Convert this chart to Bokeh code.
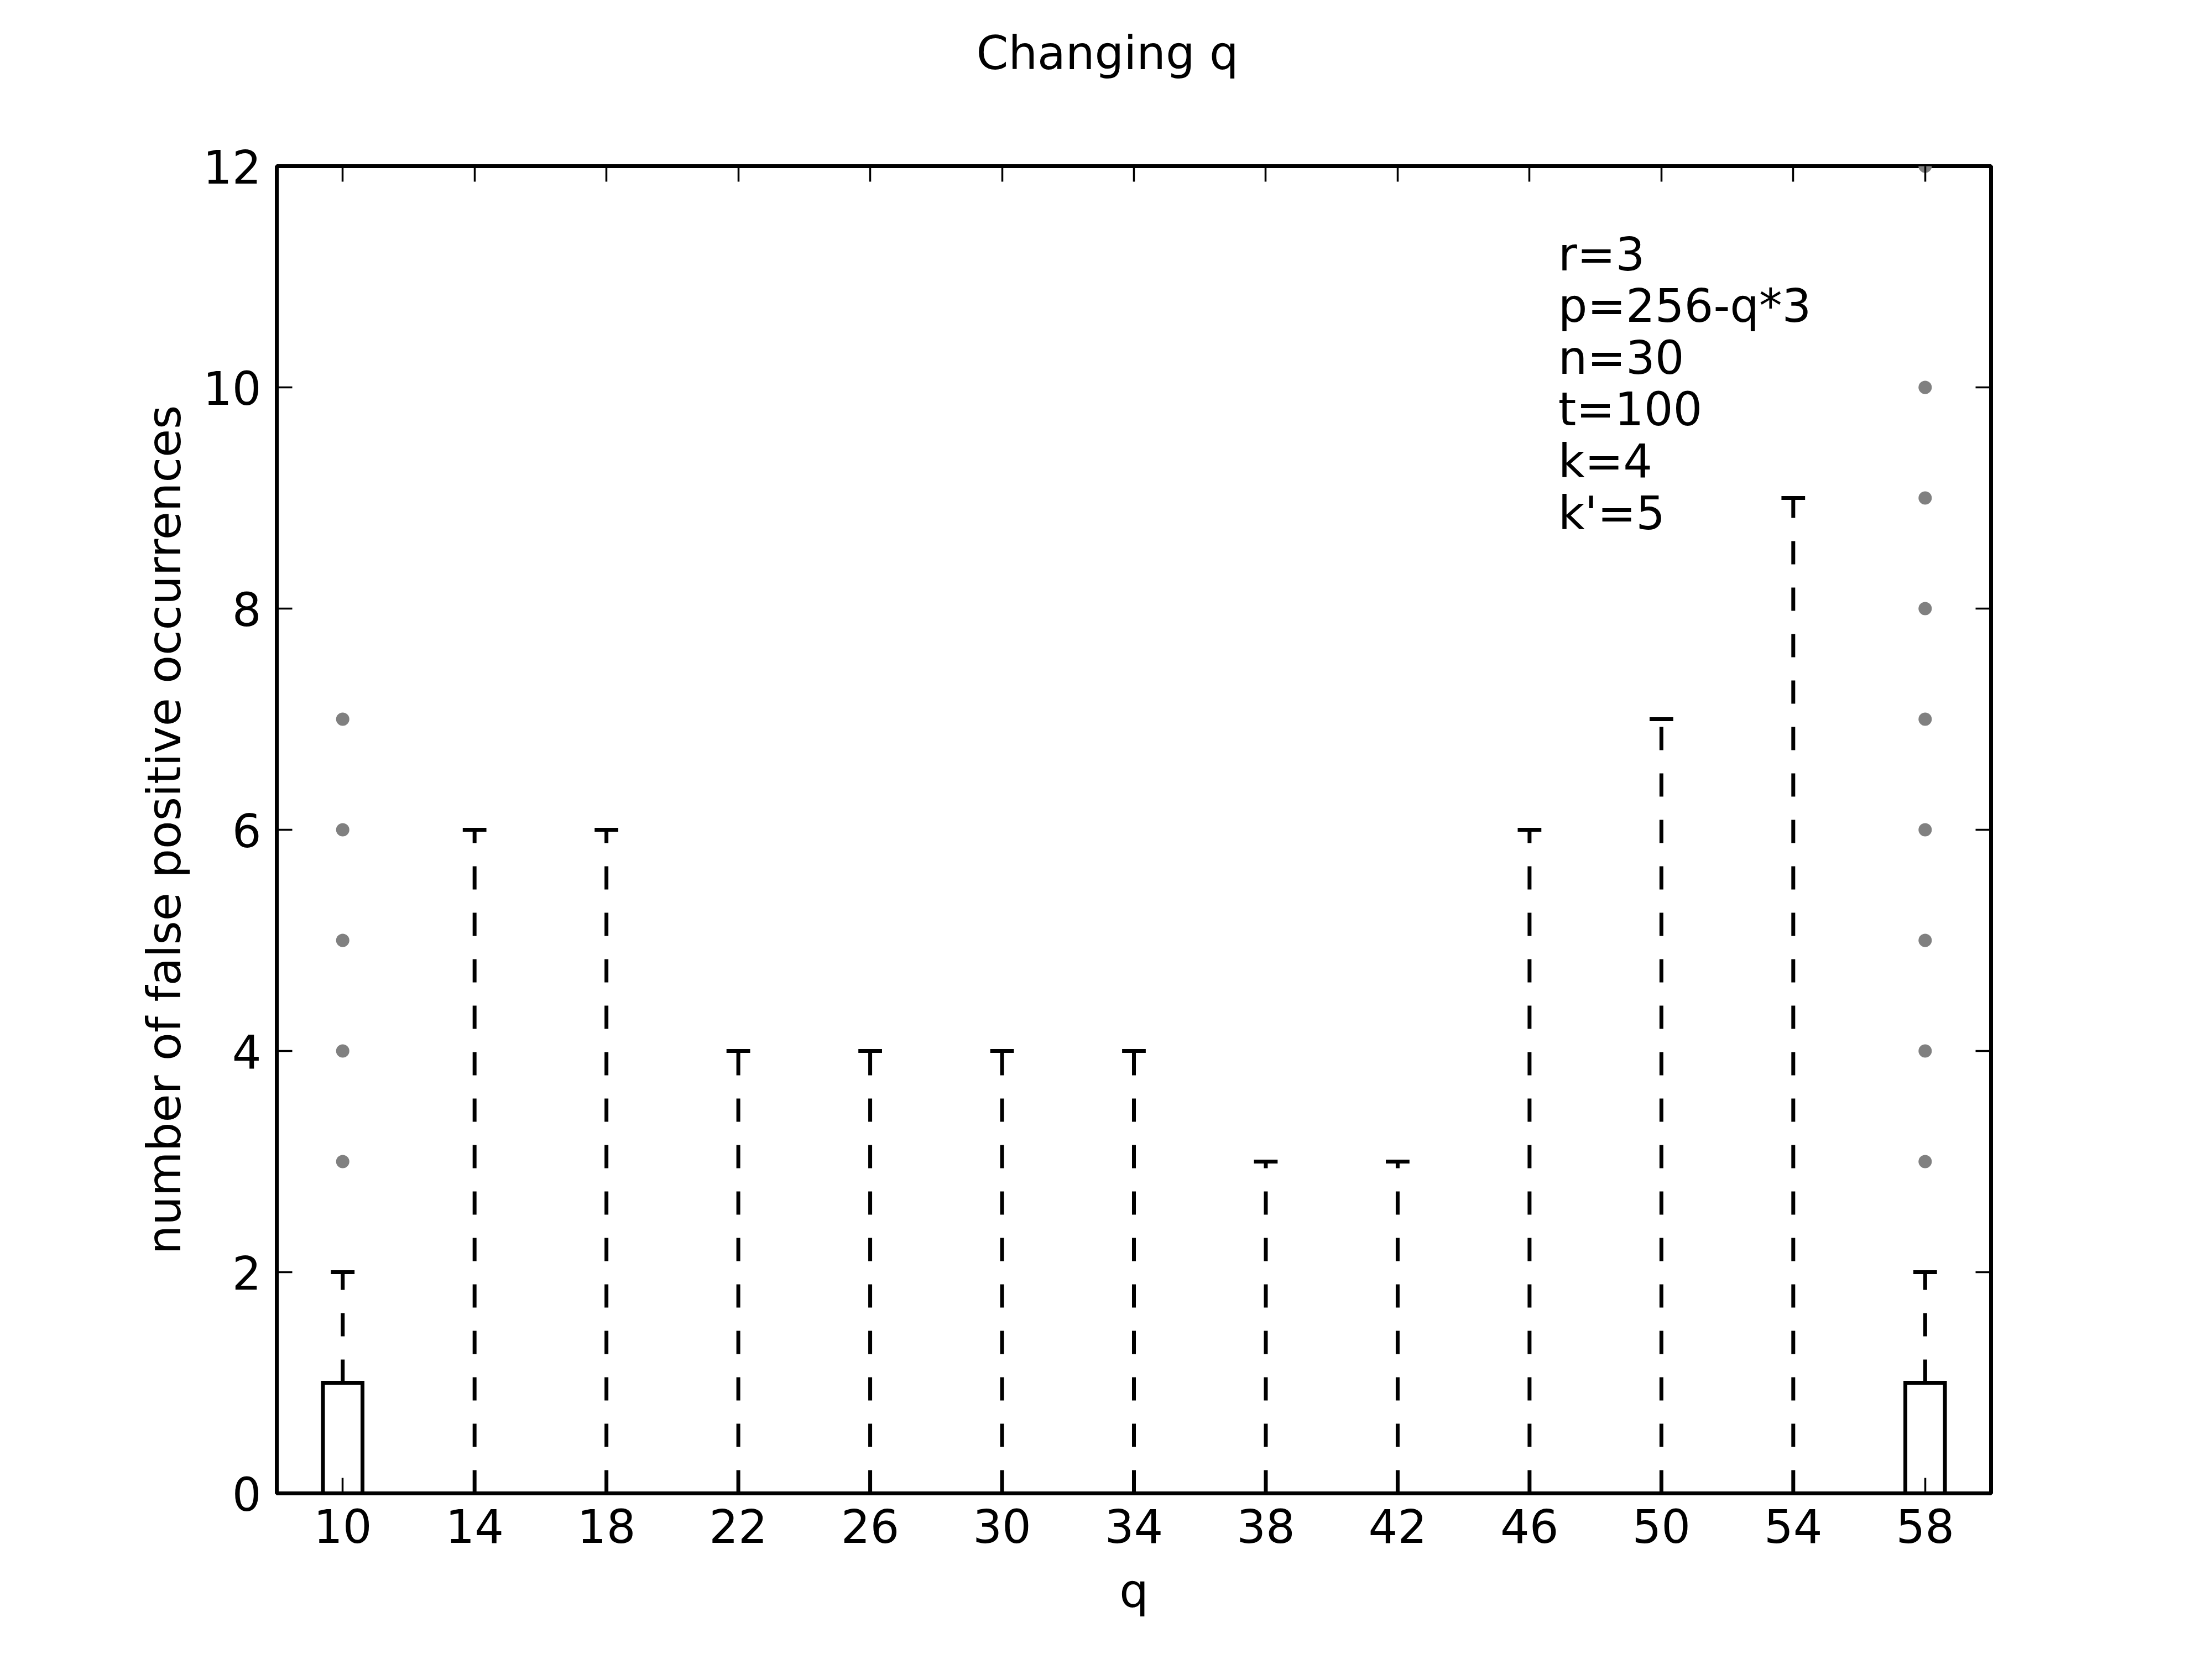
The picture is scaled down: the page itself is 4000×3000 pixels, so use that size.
from bokeh.plotting import figure
from bokeh.models import Range1d, LinearAxis, FixedTicker, Label, ColumnDataSource
from bokeh.embed import file_html
from bokeh.resources import INLINE

# ---- data ----
q_values = [10, 14, 18, 22, 26, 30, 34, 38, 42, 46, 50, 54, 58]
box_q1 = [0, 0, 0, 0, 0, 0, 0, 0, 0, 0, 0, 0, 0]
box_q3 = [1, 0, 0, 0, 0, 0, 0, 0, 0, 0, 0, 0, 1]
box_median = [0, 0, 0, 0, 0, 0, 0, 0, 0, 0, 0, 0, 0]
whisker_low = [0, 0, 0, 0, 0, 0, 0, 0, 0, 0, 0, 0, 0]
whisker_high = [2, 6, 6, 4, 4, 4, 4, 3, 3, 6, 7, 9, 2]
flier_q = [10, 10, 10, 10, 10, 58, 58, 58, 58, 58, 58, 58, 58, 58]
flier_values = [3, 4, 5, 6, 7, 3, 4, 5, 6, 7, 8, 9, 10, 12]
y_ticks = [0, 2, 4, 6, 8, 10, 12]
param_lines = ["r=3", "p=256-q*3", "n=30", "t=100", "k=4", "k'=5"]
title_text = "Changing q"
x_label = "q"
y_label = "number of false positive occurrences"

FONT = "DejaVu Sans"
FS = "83px"
BOX_HALF = 0.6   # box half-width in q units
CAP_HALF = 0.3   # cap half-width in q units

p = figure(width=3992, height=2992, output_backend="svg", toolbar_location=None,
           x_range=Range1d(8, 60), y_range=Range1d(0, 12),
           min_border_left=500, min_border_right=392,
           min_border_top=300, min_border_bottom=292)
p.background_fill_color = "white"
p.border_fill_color = "white"
p.xgrid.visible = False
p.ygrid.visible = False
p.outline_line_color = "black"
p.outline_line_width = 7

bottom_axis = p.below[0]
left_axis = p.left[0]

src = ColumnDataSource(dict(
    q=q_values,
    left=[v - BOX_HALF for v in q_values],
    right=[v + BOX_HALF for v in q_values],
    cl=[v - CAP_HALF for v in q_values],
    cr=[v + CAP_HALF for v in q_values],
    q1=box_q1, q3=box_q3, med=box_median,
    lo=whisker_low, hi=whisker_high,
))

# whiskers (dashed) from box to extremes
p.segment(x0="q", y0="q3", x1="q", y1="hi", source=src, line_color="black",
          line_width=7, line_dash="42 42", line_cap="butt")
p.segment(x0="q", y0="q1", x1="q", y1="lo", source=src, line_color="black",
          line_width=7, line_dash="42 42", line_cap="butt")
# caps
p.segment(x0="cl", y0="hi", x1="cr", y1="hi", source=src, line_color="black",
          line_width=7, line_cap="square")
p.segment(x0="cl", y0="lo", x1="cr", y1="lo", source=src, line_color="black",
          line_width=7, line_cap="square")
# boxes
p.quad(left="left", right="right", bottom="q1", top="q3", source=src,
       fill_color=None, line_color="black", line_width=7, line_join="miter")
# medians
p.segment(x0="left", y0="med", x1="right", y1="med", source=src,
          line_color="black", line_width=7)
# fliers
p.scatter(x=flier_q, y=flier_values, size=24, marker="circle",
          fill_color="#808080", line_color=None)

# axes: ticks inside on all four sides
top_axis = LinearAxis()
right_axis = LinearAxis()
p.add_layout(top_axis, "above")
p.add_layout(right_axis, "right")

bottom_axis.ticker = FixedTicker(ticks=q_values)
top_axis.ticker = FixedTicker(ticks=q_values)
left_axis.ticker = FixedTicker(ticks=y_ticks)
right_axis.ticker = FixedTicker(ticks=y_ticks)

for ax in [bottom_axis, left_axis, top_axis, right_axis]:
    ax.axis_line_color = None
    ax.major_tick_in = 28
    ax.major_tick_out = 0
    ax.major_tick_line_width = 3.5
    ax.major_tick_line_color = "black"
    ax.minor_tick_line_color = None
    ax.major_label_text_font = FONT
    ax.major_label_text_font_size = FS
    ax.major_label_text_color = "black"
    ax.axis_label_text_font = FONT
    ax.axis_label_text_font_size = FS
    ax.axis_label_text_font_style = "normal"
    ax.axis_label_text_color = "black"

# right / top axes: ticks only
for ax in [top_axis, right_axis]:
    ax.major_label_text_color = None
    ax.major_label_text_font_size = "0px"
    ax.major_label_standoff = 0
# a blank top-axis label reserves the room that lifts the title to its place
top_axis.axis_label = " "
top_axis.axis_label_standoff = 51

bottom_axis.major_label_standoff = 27
left_axis.major_label_standoff = 28
bottom_axis.axis_label = x_label
bottom_axis.axis_label_standoff = 36
left_axis.axis_label = y_label
left_axis.axis_label_standoff = 18

# title, left-aligned so that it sits at the figure centre
p.title.text = title_text
p.title.align = "left"
p.title.offset = 1265
p.title.standoff = 10
p.title.text_font = FONT
p.title.text_font_size = FS
p.title.text_font_style = "normal"
p.title.text_color = "black"

# parameters text block
p.add_layout(Label(x=46.87, y=11.445, text="\n".join(param_lines),
                   text_font=FONT, text_font_size=FS, text_color="black",
                   text_align="left", text_baseline="top",
                   text_line_height=0.965))

open("out.html", "w").write(file_html(p, INLINE))
